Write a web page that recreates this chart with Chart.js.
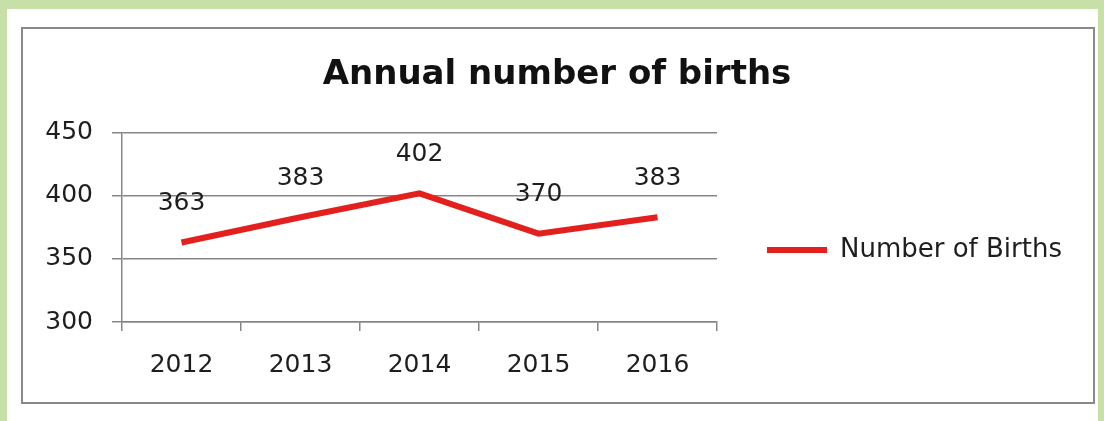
<!DOCTYPE html>
<html>
<head>
<meta charset="utf-8">
<script src="https://cdn.jsdelivr.net/npm/chart.js@4/dist/chart.umd.min.js"></script>
<style>
  html, body { margin: 0; padding: 0; width: 1104px; height: 421px; overflow: hidden; background: #c6e0a8; }
  #panel { position: absolute; left: 7px; top: 9px; width: 1091px; height: 412px; background: #ffffff; }
  #frame { position: absolute; left: 21px; top: 27px; width: 1074px; height: 377px; border: 2px solid #8d8787; box-sizing: border-box; }
  #wrap { position: absolute; left: 0; top: 0; width: 1104px; height: 421px; }
</style>
</head>
<body>
<div id="panel"></div>
<div id="frame"></div>
<div id="wrap"><canvas id="c" width="1104" height="421"></canvas></div>
<script>
const chartTitle = 'Annual number of births';
const seriesName = 'Number of Births';
const categories = ['2012', '2013', '2014', '2015', '2016'];
const births = [363, 383, 402, 370, 383];
const yTicks = [300, 350, 400, 450];

const lineColor = '#e3201e';
const gridColor = '#8a8585';
const textColor = '#1e1e1e';

Chart.defaults.font.family = "'DejaVu Sans', Verdana, sans-serif";
Chart.defaults.color = textColor;

const valueLabels = {
  id: 'valueLabels',
  afterDatasetsDraw(chart) {
    const ctx = chart.ctx;
    const meta = chart.getDatasetMeta(0);
    const ds = chart.data.datasets[0];
    ctx.save();
    ctx.font = "25px 'DejaVu Sans', Verdana, sans-serif";
    ctx.fillStyle = textColor;
    ctx.textAlign = 'center';
    ctx.textBaseline = 'middle';
    meta.data.forEach((pt, i) => {
      ctx.fillText(String(ds.data[i]), pt.x, pt.y - 39);
    });
    ctx.restore();
  }
};

new Chart(document.getElementById('c'), {
  type: 'line',
  data: {
    labels: categories,
    datasets: [{
      label: seriesName,
      data: births,
      borderColor: lineColor,
      backgroundColor: lineColor,
      borderWidth: 6,
      pointRadius: 0,
      pointHoverRadius: 0,
      tension: 0,
      fill: false,
      borderCapStyle: 'butt',
      borderJoinStyle: 'miter'
    }]
  },
  options: {
    responsive: false,
    animation: false,
    devicePixelRatio: 1,
    events: [],
    layout: { padding: { left: 42, right: 32, top: 28, bottom: 22 } },
    plugins: {
      tooltip: { enabled: false },
      title: {
        display: true,
        text: chartTitle,
        color: '#111111',
        font: { size: 34, weight: 'bold' },
        padding: { top: 27, bottom: 37 }
      },
      legend: {
        display: true,
        position: 'right',
        maxWidth: 500,
        title: { display: true, text: ' ', font: { size: 10 }, padding: { top: 30, bottom: 31 } },
        labels: {
          boxWidth: 60,
          boxHeight: 6,
          padding: 50,
          color: textColor,
          font: { size: 26 },
          generateLabels(chart) {
            return chart.data.datasets.map((d, i) => ({
              text: d.label,
              fillStyle: lineColor,
              strokeStyle: lineColor,
              lineWidth: 0,
              hidden: false,
              datasetIndex: i
            }));
          }
        }
      }
    },
    scales: {
      x: {
        type: 'category',
        offset: true,
        grid: { display: true, drawOnChartArea: false, drawTicks: true, tickLength: 9, color: gridColor, lineWidth: 1.5, offset: true },
        border: { display: true, color: gridColor, width: 1.5 },
        ticks: { padding: 19, font: { size: 25 }, color: textColor, maxRotation: 0, autoSkip: false }
      },
      y: {
        min: yTicks[0],
        max: yTicks[yTicks.length - 1],
        afterBuildTicks(scale) { scale.ticks = yTicks.map(v => ({ value: v })); },
        afterFit(scale) { scale.width = 80; },
        grid: { color: gridColor, lineWidth: 1.5, tickLength: 10, drawTicks: true },
        border: { display: true, color: gridColor, width: 1.5 },
        ticks: { padding: 19, font: { size: 25 }, color: textColor }
      }
    }
  },
  plugins: [valueLabels]
});
</script>
</body>
</html>
